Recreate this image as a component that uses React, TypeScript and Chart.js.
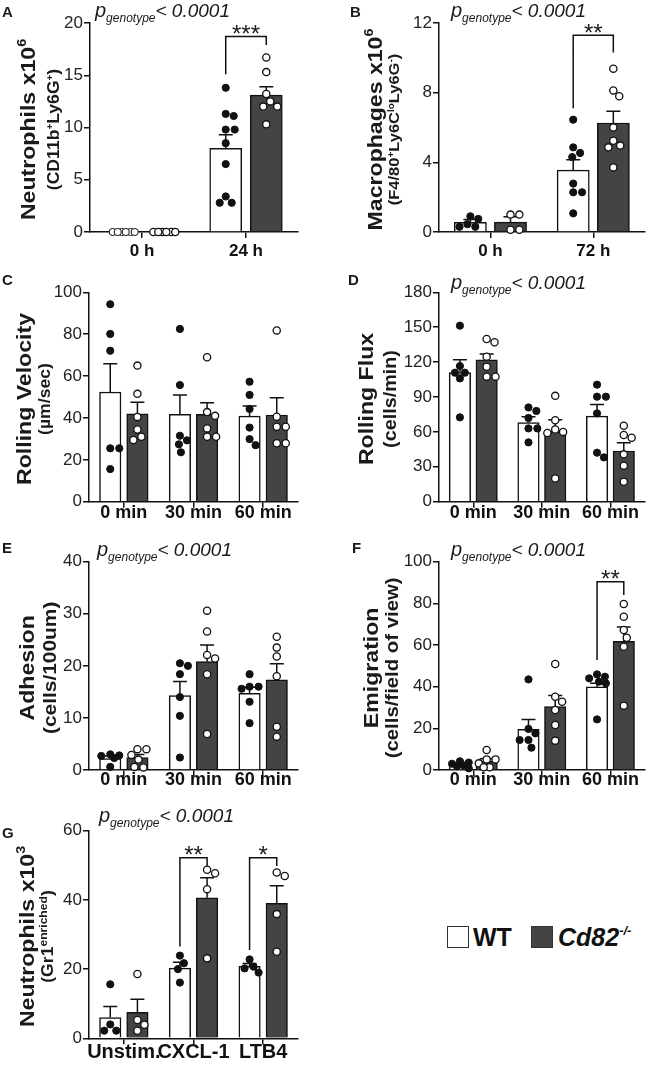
import React, { useEffect, useRef } from 'react';
import { Chart, registerables } from 'chart.js';

Chart.register(...registerables);

const FONT = '"Liberation Sans", Arial, Helvetica, sans-serif';
const INK = '#111111';
const KO_FILL = '#444444';
const TEXT = '#1a1a1a';
const CAT_PCT = 0.78;
const BAR_PCT = 0.79;
const TITLE_STRETCH = 1.1;

// ===== Panel A =====
const aCategories = ['0 h', '24 h'];
const aYTicks = [0, 5, 10, 15, 20];
const aWtMean = [0, 8.0];
const aWtSem = [0, 1.3];
const aKoMean = [0, 13.1];
const aKoSem = [0, 0.8];
const aWtPoints = [[0, 0, 0, 0, 0, 0], [13.8, 11.3, 11.1, 9.8, 9.8, 8.5, 6.5, 3.4, 2.8, 2.8]];
const aKoPoints = [[0, 0, 0, 0, 0, 0], [16.7, 15.3, 13.2, 12.5, 12.0, 12.0, 10.3]];
const aSignificance = [{ category: 1, top: 18.7, wtEnd: 15.1, koEnd: 17.9, label: '***' }];

// ===== Panel B =====
const bCategories = ['0 h', '72 h'];
const bYTicks = [0, 4, 8, 12];
const bWtMean = [0.55, 3.55];
const bWtSem = [0.17, 0.6];
const bKoMean = [0.57, 6.26];
const bKoSem = [0.3, 0.67];
const bWtPoints = [[0.9, 0.75, 0.45, 0.3, 0.3], [6.45, 4.86, 4.54, 4.3, 2.78, 2.28, 2.28, 1.07]];
const bKoPoints = [[1.0, 1.0, 0.13, 0.13], [9.38, 8.13, 7.79, 6.0, 5.24, 4.96, 4.86, 3.71]];
const bSignificance = [{ category: 1, top: 11.3, wtEnd: 7.1, koEnd: 10.3, label: '**' }];

// ===== Panel C =====
const cCategories = ['0 min', '30 min', '60 min'];
const cYTicks = [0, 20, 40, 60, 80, 100];
const cWtMean = [52.4, 41.7, 40.9];
const cWtSem = [13.5, 9.3, 4.8];
const cKoMean = [42.0, 41.7, 41.4];
const cKoSem = [5.5, 5.6, 8.3];
const cWtPoints = [[94.3, 80.1, 72.1, 25.5, 25.5, 15.6], [82.5, 55.7, 31.5, 29.3, 27.4, 23.6], [57.3, 51, 44.3, 35.4, 29.9, 27]];
const cKoPoints = [[65, 51.5, 40.5, 34.5, 31, 29.5], [69, 42.8, 41, 35, 31, 31], [81.8, 40.6, 35.8, 35.8, 27.9, 27.9]];
const cSignificance: Sig[] = [];

// ===== Panel D =====
const dCategories = ['0 min', '30 min', '60 min'];
const dYTicks = [0, 30, 60, 90, 120, 150, 180];
const dWtMean = [111, 68, 73.5];
const dWtSem = [11, 5, 10];
const dKoMean = [122, 60.5, 43.6];
const dKoSem = [5, 10, 7];
const dWtPoints = [[151.3, 116.6, 110.9, 110.9, 106, 72.5], [81, 78, 72, 63, 63, 51], [100.6, 90.3, 90.3, 75.9, 42.1, 38.1]];
const dKoPoints = [[139.9, 137, 124.7, 116, 107.5, 107.5], [91, 70, 62, 60, 59, 20], [65.3, 57.3, 55, 40.7, 31, 17.2]];
const dSignificance: Sig[] = [];

// ===== Panel E =====
const eCategories = ['0 min', '30 min', '60 min'];
const eYTicks = [0, 10, 20, 30, 40];
const eWtMean = [2.2, 14.3, 14.7];
const eWtSem = [0.5, 2.7, 1.2];
const eKoMean = [2.4, 20.8, 17.3];
const eKoSem = [0.6, 3.2, 3.1];
const eWtPoints = [[3.0, 2.8, 2.7, 2.3, 0.6], [20.5, 20, 18.4, 14, 10.4, 2.4], [18.4, 16, 16, 15.6, 13.1, 9.0]];
const eKoPoints = [[4.0, 4.0, 2.9, 2.0, 0.6, 0.5], [30.6, 26.6, 22.1, 21.4, 18.4, 6.9], [25.6, 23.5, 21.8, 18.0, 8.3, 6.4]];
const eSignificance: Sig[] = [];

// ===== Panel F =====
const fCategories = ['0 min', '30 min', '60 min'];
const fYTicks = [0, 20, 40, 60, 80, 100];
const fWtMean = [2.7, 19.5, 39.9];
const fWtSem = [0.5, 4.8, 1.8];
const fKoMean = [4.2, 30.5, 61.8];
const fKoSem = [1.2, 5.3, 6.8];
const fWtPoints = [[4.2, 3.6, 3.0, 2.2, 1.8, 0.8], [43.5, 19.7, 17.6, 14.4, 14.4, 10.7], [45.9, 44.8, 44, 42.4, 41.6, 24.3]];
const fKoPoints = [[9.6, 5.1, 5.1, 3.2, 1.3, 1.3], [50.9, 35.2, 32.8, 28.8, 21.6, 14.1], [79.7, 73.6, 67.2, 63.5, 59.2, 30.9]];
const fSignificance = [{ category: 2, top: 90.4, wtEnd: 52.8, koEnd: 84, label: '**' }];

// ===== Panel G =====
const gCategories = ['Unstim.', 'CXCL-1', 'LTB4'];
const gYTicks = [0, 20, 40, 60];
const gWtMean = [6.0, 20.3, 20.8];
const gWtSem = [3.2, 1.7, 0.8];
const gKoMean = [7.5, 40.6, 39.0];
const gKoSem = [3.8, 5.8, 5.1];
const gWtPoints = [[15.6, 4.0, 2.2, 2.2], [23.9, 21.7, 20.0, 16.1], [22.8, 20.7, 20.2, 19.0]];
const gKoPoints = [[18.6, 5.3, 3.9, 2.2], [48.7, 47.7, 43.1, 23.1], [47.9, 46.9, 35.9, 25.0]];
const gSignificance = [
  { category: 1, top: 52.2, wtEnd: 26.5, koEnd: 49.8, label: '**' },
  { category: 2, top: 52.2, wtEnd: 25.5, koEnd: 49.8, label: '*' },
];

const pText = '< 0.0001';

type Sig = { category: number; top: number; wtEnd: number; koEnd: number; label: string };
type Part = { t: string; size: number; bold?: boolean; italic?: boolean; dy?: number };
type Box = { l: number; t: number; w: number; h: number };
type Plot = { l: number; t: number; r: number; b: number };

type PanelSpec = {
  letter: string;
  categories: string[];
  yTicks: number[];
  wtMean: number[];
  wtSem: number[];
  koMean: number[];
  koSem: number[];
  wtPoints: number[][];
  koPoints: number[][];
  sig: Sig[];
  title: Part[];
  subtitle: Part[];
  showP: boolean;
  box: Box;
  plot: Plot;
  letterPos: [number, number];
  pPos: [number, number];
  titleX: number;
  subX: number;
  xFont: number;
  xPad: number;
};

const T = (t: string, size = 21): Part => ({ t, size, bold: true });
const SUP = (t: string, size: number, dy: number): Part => ({ t, size, bold: true, dy });

const panels: PanelSpec[] = [
  {
    letter: 'A', categories: aCategories, yTicks: aYTicks,
    wtMean: aWtMean, wtSem: aWtSem, koMean: aKoMean, koSem: aKoSem,
    wtPoints: aWtPoints, koPoints: aKoPoints, sig: aSignificance,
    title: [T('Neutrophils x10'), SUP('6', 13, -9)],
    subtitle: [T('(CD11b', 16), SUP('+', 9, -6), T('Ly6G', 16), SUP('+', 9, -6), T(')', 16)],
    showP: true,
    box: { l: 0, t: 0, w: 325, h: 262 }, plot: { l: 90, t: 23, r: 298, b: 232 },
    letterPos: [2, 17], pPos: [95, 17], titleX: 34.5, subX: 58.8, xFont: 17, xPad: 3,
  },
  {
    letter: 'B', categories: bCategories, yTicks: bYTicks,
    wtMean: bWtMean, wtSem: bWtSem, koMean: bKoMean, koSem: bKoSem,
    wtPoints: bWtPoints, koPoints: bKoPoints, sig: bSignificance,
    title: [T('Macrophages x10'), SUP('6', 13, -9)],
    subtitle: [T('(F4/80', 15), SUP('+', 9, -5), T('Ly6C', 15), SUP('lo', 9, -5), T('Ly6G', 15), SUP('-', 9, -5), T(')', 15)],
    showP: true,
    box: { l: 325, t: 0, w: 325, h: 262 }, plot: { l: 439, t: 23, r: 648, b: 232 },
    letterPos: [350, 17], pPos: [451, 17], titleX: 382, subX: 398.5, xFont: 17, xPad: 3,
  },
  {
    letter: 'C', categories: cCategories, yTicks: cYTicks,
    wtMean: cWtMean, wtSem: cWtSem, koMean: cKoMean, koSem: cKoSem,
    wtPoints: cWtPoints, koPoints: cKoPoints, sig: cSignificance,
    title: [T('Rolling Velocity')],
    subtitle: [T('(µm/sec)', 16)],
    showP: false,
    box: { l: 0, t: 262, w: 325, h: 268 }, plot: { l: 89, t: 292.3, r: 298, b: 501.7 },
    letterPos: [2, 285], pPos: [0, 0], titleX: 30.5, subX: 49.8, xFont: 18, xPad: -5.5,
  },
  {
    letter: 'D', categories: dCategories, yTicks: dYTicks,
    wtMean: dWtMean, wtSem: dWtSem, koMean: dKoMean, koSem: dKoSem,
    wtPoints: dWtPoints, koPoints: dKoPoints, sig: dSignificance,
    title: [T('Rolling Flux')],
    subtitle: [T('(cells/min)', 18)],
    showP: true,
    box: { l: 325, t: 262, w: 325, h: 268 }, plot: { l: 439, t: 292.3, r: 648, b: 501.7 },
    letterPos: [348, 285], pPos: [451, 288.5], titleX: 372.5, subX: 396.2, xFont: 18, xPad: -5.5,
  },
  {
    letter: 'E', categories: eCategories, yTicks: eYTicks,
    wtMean: eWtMean, wtSem: eWtSem, koMean: eKoMean, koSem: eKoSem,
    wtPoints: eWtPoints, koPoints: eKoPoints, sig: eSignificance,
    title: [T('Adhesion')],
    subtitle: [T('(cells/100um)', 19)],
    showP: true,
    box: { l: 0, t: 530, w: 325, h: 270 }, plot: { l: 89, t: 561.7, r: 298, b: 770 },
    letterPos: [2, 553], pPos: [97, 555.5], titleX: 33.5, subX: 56, xFont: 18, xPad: -6.5,
  },
  {
    letter: 'F', categories: fCategories, yTicks: fYTicks,
    wtMean: fWtMean, wtSem: fWtSem, koMean: fKoMean, koSem: fKoSem,
    wtPoints: fWtPoints, koPoints: fKoPoints, sig: fSignificance,
    title: [T('Emigration')],
    subtitle: [T('(cells/field of view)', 18.5)],
    showP: true,
    box: { l: 325, t: 530, w: 325, h: 270 }, plot: { l: 439, t: 561.7, r: 648, b: 770 },
    letterPos: [352, 553], pPos: [451, 555.5], titleX: 377.5, subX: 398, xFont: 18, xPad: -6.5,
  },
  {
    letter: 'G', categories: gCategories, yTicks: gYTicks,
    wtMean: gWtMean, wtSem: gWtSem, koMean: gKoMean, koSem: gKoSem,
    wtPoints: gWtPoints, koPoints: gKoPoints, sig: gSignificance,
    title: [T('Neutrophils x10'), SUP('3', 13, -9)],
    subtitle: [T('(Gr1', 16), SUP('enriched', 11, -6), T(')', 16)],
    showP: true,
    box: { l: 0, t: 800, w: 325, h: 269 }, plot: { l: 89, t: 830.7, r: 298, b: 1038.3 },
    letterPos: [2, 838], pPos: [99, 822.3], titleX: 33.5, subX: 52.5, xFont: 20, xPad: -3.5,
  },
];

function partFont(p: Part) {
  return `${p.italic ? 'italic ' : ''}${p.bold ? 'bold ' : ''}${p.size}px ${FONT}`;
}

function drawParts(ctx: CanvasRenderingContext2D, parts: Part[], x: number, y: number, center: boolean, sx = 1) {
  let total = 0;
  for (const p of parts) {
    ctx.font = partFont(p);
    total += ctx.measureText(p.t).width * sx;
  }
  let cx = center ? x - total / 2 : x;
  ctx.textAlign = 'left';
  ctx.textBaseline = 'alphabetic';
  for (const p of parts) {
    ctx.font = partFont(p);
    ctx.save();
    ctx.translate(cx, y + (p.dy || 0));
    ctx.scale(sx, 1);
    ctx.fillText(p.t, 0, 0);
    ctx.restore();
    cx += ctx.measureText(p.t).width * sx;
  }
}

// Deterministic beeswarm: spreads points horizontally only when they would overlap.
function swarm(vals: number[], center: number, pxPerUnit: number, catPx: number, maxPx: number) {
  const D = 8.2;
  const order = vals.map((_, i) => i).sort((a, b) => vals[b] - vals[a]);
  const placed: { dx: number; py: number }[] = [];
  const out: { x: number; y: number }[] = new Array(vals.length);
  for (const i of order) {
    const py = vals[i] * pxPerUnit;
    let best = 0;
    let bestScore = -Infinity;
    const lim = Math.floor(maxPx);
    for (let k = 0; k <= 2 * lim; k++) {
      const dx = k === 0 ? 0 : (k % 2 === 1 ? 1 : -1) * Math.ceil(k / 2);
      let minD = Infinity;
      for (const p of placed) minD = Math.min(minD, Math.hypot(dx - p.dx, py - p.py));
      if (minD >= D) { best = dx; bestScore = Infinity; break; }
      if (minD > bestScore + 0.01) { bestScore = minD; best = dx; }
    }
    placed.push({ dx: best, py });
    out[i] = { x: center + best / catPx, y: vals[i] };
  }
  return out;
}

function buildConfig(s: PanelSpec): any {
  const n = s.categories.length;
  const yMax = s.yTicks[s.yTicks.length - 1];
  const step = s.yTicks[1] - s.yTicks[0];
  const plotW = s.plot.r - s.plot.l;
  const plotH = s.plot.b - s.plot.t;
  const catPx = plotW / n;
  const pxPerUnit = plotH / yMax;
  const barPx = (CAT_PCT * catPx / 2) * BAR_PCT;
  const maxPx = barPx * 0.42;
  const wtOffset = -CAT_PCT / 4;
  const koOffset = CAT_PCT / 4;
  const wtBars = s.wtMean.map((m, i) => ({ x: i + wtOffset, y: m }));
  const koBars = s.koMean.map((m, i) => ({ x: i + koOffset, y: m }));
  const wtScatter = s.wtPoints.flatMap((vals, i) => swarm(vals, i + wtOffset, pxPerUnit, catPx, maxPx));
  const koScatter = s.koPoints.flatMap((vals, i) => swarm(vals, i + koOffset, pxPerUnit, catPx, maxPx));

  const bx = s.box.l;
  const by = s.box.t;

  const drawErrorBars = (chart: any) => {
    const ctx: CanvasRenderingContext2D = chart.ctx;
    const ys = chart.scales.y;
    ctx.save();
    ctx.strokeStyle = INK;
    ctx.lineWidth = 1.5;
    const groups: [number, number[], number[]][] = [[0, s.wtMean, s.wtSem], [1, s.koMean, s.koSem]];
    for (const [di, means, sems] of groups) {
      const meta = chart.getDatasetMeta(di);
      means.forEach((m, i) => {
        if (!sems[i]) return;
        const x = meta.data[i].x;
        const y0 = ys.getPixelForValue(m);
        const y1 = ys.getPixelForValue(m + sems[i]);
        ctx.beginPath();
        ctx.moveTo(x, y0);
        ctx.lineTo(x, y1);
        ctx.moveTo(x - 7, y1);
        ctx.lineTo(x + 7, y1);
        ctx.stroke();
      });
    }
    ctx.restore();
  };

  const annot = {
    id: 'annot' + s.letter,
    beforeDatasetDraw(chart: any, args: any) {
      if (args.index === 3) drawErrorBars(chart);
    },
    afterDraw(chart: any) {
      const ctx: CanvasRenderingContext2D = chart.ctx;
      const ys = chart.scales.y;
      ctx.save();
      ctx.fillStyle = TEXT;
      drawParts(ctx, [{ t: s.letter, size: 15, bold: true }], s.letterPos[0] - bx, s.letterPos[1] - by, false);
      if (s.showP) {
        drawParts(ctx, [
          { t: 'p', size: 20, italic: true },
          { t: 'genotype', size: 12, italic: true, dy: 5 },
          { t: pText, size: 19, italic: true },
        ], s.pPos[0] - bx, s.pPos[1] - by, false);
      }
      const cy = (s.plot.t + s.plot.b) / 2 + 2 - by;
      ctx.save();
      ctx.translate(s.titleX - bx, cy);
      ctx.rotate(-Math.PI / 2);
      drawParts(ctx, s.title, 0, 0, true, TITLE_STRETCH);
      ctx.restore();
      ctx.save();
      ctx.translate(s.subX - bx, cy);
      ctx.rotate(-Math.PI / 2);
      drawParts(ctx, s.subtitle, 0, 0, true, TITLE_STRETCH);
      ctx.restore();
      ctx.strokeStyle = INK;
      ctx.lineWidth = 1.5;
      for (const g of s.sig) {
        const xw = chart.getDatasetMeta(0).data[g.category].x;
        const xk = chart.getDatasetMeta(1).data[g.category].x;
        const yt = ys.getPixelForValue(g.top);
        ctx.beginPath();
        ctx.moveTo(xw, ys.getPixelForValue(g.wtEnd));
        ctx.lineTo(xw, yt);
        ctx.lineTo(xk, yt);
        ctx.lineTo(xk, ys.getPixelForValue(g.koEnd));
        ctx.stroke();
        ctx.font = `24px ${FONT}`;
        ctx.textAlign = 'center';
        ctx.textBaseline = 'alphabetic';
        ctx.fillText(g.label, (xw + xk) / 2, yt + 5.5);
      }
      ctx.restore();
    },
  };

  const zeroWhite = (c: any) => (c.raw && c.raw.y === 0 ? '#ffffff' : INK);

  return {
    type: 'bar',
    data: {
      labels: s.categories,
      datasets: [
        {
          label: 'WT', data: wtBars, xAxisID: 'xs', yAxisID: 'y', grouped: false, barThickness: barPx,
          backgroundColor: '#ffffff', borderColor: INK, borderWidth: 1.5, order: 4,
        },
        {
          label: 'Cd82-/-', data: koBars, xAxisID: 'xs', yAxisID: 'y', grouped: false, barThickness: barPx,
          backgroundColor: KO_FILL, borderColor: INK, borderWidth: 1.5, order: 3,
        },
        {
          type: 'scatter', label: 'WT points', data: wtScatter, xAxisID: 'xs', yAxisID: 'y',
          pointRadius: 3.6, pointBackgroundColor: zeroWhite, pointBorderColor: INK, pointBorderWidth: 1,
          order: 1, clip: false,
        },
        {
          type: 'scatter', label: 'Cd82 points', data: koScatter, xAxisID: 'xs', yAxisID: 'y',
          pointRadius: 3.6, pointBackgroundColor: '#ffffff', pointBorderColor: INK, pointBorderWidth: 1.3,
          order: 2, clip: false,
        },
      ],
    },
    options: {
      animation: false,
      responsive: false,
      maintainAspectRatio: false,
      events: [],
      layout: {
        padding: { left: 0, top: s.plot.t - s.box.t, right: s.box.l + s.box.w - s.plot.r, bottom: 0 },
      },
      plugins: { legend: { display: false }, tooltip: { enabled: false }, title: { display: false } },
      scales: {
        x: {
          type: 'category',
          offset: true,
          grid: { display: true, drawOnChartArea: false, drawTicks: true, tickLength: 6, color: INK, lineWidth: 1.5, offset: false },
          border: { display: true, color: INK, width: 1.5 },
          ticks: { color: INK, font: { family: FONT, size: s.xFont, weight: 'bold' }, padding: s.xPad, maxRotation: 0, autoSkip: false },
          afterFit: (scale: any) => { scale.height = s.box.t + s.box.h - s.plot.b; },
        },
        xs: { type: 'linear', min: -0.5, max: n - 0.5, display: false, offset: false },
        y: {
          min: 0,
          max: yMax,
          grid: { display: true, drawOnChartArea: false, drawTicks: true, tickLength: 6, color: INK, lineWidth: 1.5 },
          border: { display: true, color: INK, width: 1.5 },
          ticks: { stepSize: step, color: '#222222', font: { family: FONT, size: 17 }, padding: 1 },
          afterFit: (scale: any) => { scale.width = s.plot.l - s.box.l; },
        },
      },
    },
    plugins: [annot],
  };
}

function PanelChart({ spec }: { spec: PanelSpec }) {
  const ref = useRef<HTMLCanvasElement>(null);
  useEffect(() => {
    if (!ref.current) return;
    const chart = new Chart(ref.current, buildConfig(spec));
    return () => chart.destroy();
  }, [spec]);
  return (
    <canvas
      ref={ref}
      width={spec.box.w}
      height={spec.box.h}
      style={{ position: 'absolute', left: spec.box.l, top: spec.box.t, width: spec.box.w, height: spec.box.h }}
    />
  );
}

export default function App() {
  return (
    <div style={{ position: 'absolute', left: 0, top: 0, width: 650, height: 1069, background: '#ffffff', overflow: 'hidden' }}>
      {panels.map((p) => (
        <PanelChart key={p.letter} spec={p} />
      ))}
      <div style={{ position: 'absolute', left: 447, top: 926, width: 22, height: 22, boxSizing: 'border-box', border: '1.5px solid #333', background: '#ffffff' }} />
      <span style={{ position: 'absolute', left: 473, top: 925, font: `bold 25px ${FONT}`, lineHeight: '25px', color: '#111', whiteSpace: 'nowrap' }}>WT</span>
      <div style={{ position: 'absolute', left: 531, top: 926, width: 22, height: 22, boxSizing: 'border-box', border: '1.5px solid #333', background: KO_FILL }} />
      <span style={{ position: 'absolute', left: 558, top: 925, font: `italic bold 25px ${FONT}`, lineHeight: '25px', color: '#111', whiteSpace: 'nowrap' }}>
        Cd82
        <span style={{ fontSize: 13, position: 'relative', top: -11 }}>-/-</span>
      </span>
    </div>
  );
}
